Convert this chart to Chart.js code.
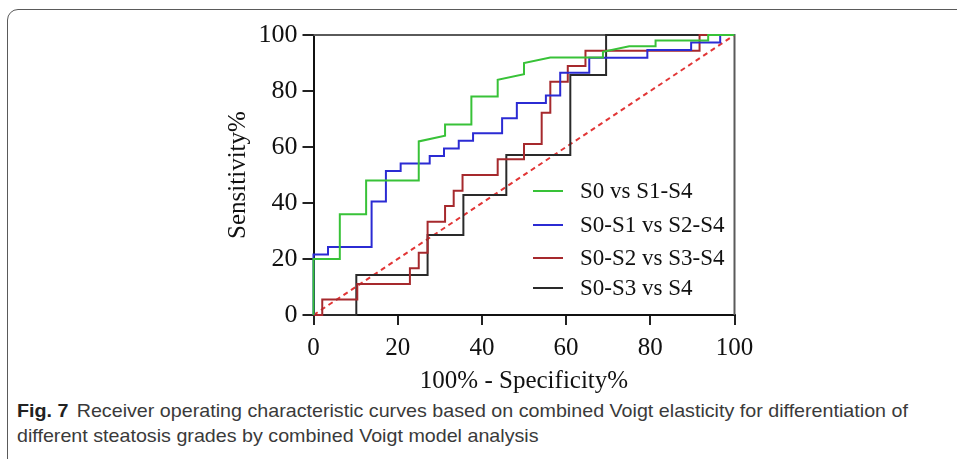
<!DOCTYPE html>
<html>
<head>
<meta charset="utf-8">
<script src="https://cdn.jsdelivr.net/npm/chart.js@4.4.0/dist/chart.umd.min.js"></script>
<style>
html, body { margin: 0; padding: 0; background: #fff; overflow: hidden; }
body { width: 957px; height: 459px; position: relative; }
.frame { position: absolute; left: 7px; top: 9px; width: 1000px; height: 520px; border: 1.5px solid #5a5a5a; border-top-left-radius: 11px; box-sizing: border-box; }
.chart-box { position: absolute; left: 0; top: 0; width: 957px; height: 396px; }
.caption { position: absolute; left: 17px; top: 398px; font-family: "Liberation Sans Narrow", "Liberation Sans", sans-serif; font-size: 19px; color: #3a3a3a; line-height: 25px; white-space: nowrap; transform-origin: 0 0; }
.caption b { color: #222; margin-right: 8px; }
</style>
</head>
<body>
<div class="frame"></div>
<div class="chart-box"><canvas id="roc" width="957" height="396"></canvas></div>
<div class="caption" id="cap">
  <div id="cap1"><b>Fig. 7</b>Receiver operating characteristic curves based on combined Voigt elasticity for differentiation of</div>
  <div>different steatosis grades by combined Voigt model analysis</div>
</div>
<script>
// curves (100% - specificity, sensitivity)
const s0_fpr = [0, 0, 6.25, 6.25, 12.5, 12.5, 25, 25, 31.25, 31.25, 37.5, 37.5, 43.75, 43.75, 50, 50, 56.25, 68.75, 68.75, 75, 81.25, 81.25, 93.75, 93.75, 100];
const s0_tpr = [0, 20, 20, 36, 36, 48, 48, 62, 64, 68, 68, 78, 78, 84, 86, 90, 92, 92, 94, 96, 96, 98, 98, 100, 100];

const s01_fpr = [0, 0, 3.45, 3.45, 13.8, 13.8, 17.2, 17.2, 20.7, 20.7, 27.6, 27.6, 31.0, 31.0, 34.5, 34.5, 37.9, 37.9, 44.8, 44.8, 48.3, 48.3, 55.2, 55.2, 58.6, 58.6, 65.5, 65.5, 79.3, 79.3, 89.7, 89.7, 96.6, 96.6, 100];
const s01_tpr = [0, 21.6, 21.6, 24.3, 24.3, 40.5, 40.5, 51.4, 51.4, 54.1, 54.1, 56.8, 56.8, 59.5, 59.5, 62.2, 62.2, 64.9, 64.9, 70.3, 70.3, 75.7, 75.7, 78.4, 78.4, 86.5, 86.5, 91.9, 91.9, 94.6, 94.6, 97.3, 97.3, 100, 100];

const s02_fpr = [0, 2.08, 2.08, 10.4, 10.4, 22.9, 22.9, 25, 25, 27.1, 27.1, 31.25, 31.25, 33.3, 33.3, 35.4, 35.4, 43.75, 43.75, 50, 50, 54.2, 54.2, 56.25, 56.25, 60.4, 60.4, 64.6, 64.6, 91.7, 91.7, 100];
const s02_tpr = [0, 0, 5.56, 5.56, 11.1, 11.1, 16.7, 16.7, 22.2, 22.2, 33.3, 33.3, 38.9, 38.9, 44.4, 44.4, 50, 50, 55.6, 55.6, 61.1, 61.1, 72.2, 72.2, 83.3, 83.3, 88.9, 88.9, 94.4, 94.4, 100, 100];

const s03_fpr = [0, 10.17, 10.17, 27.1, 27.1, 35.6, 35.6, 45.8, 45.8, 61.0, 61.0, 69.5, 69.5, 100];
const s03_tpr = [0, 0, 14.29, 14.29, 28.57, 28.57, 42.86, 42.86, 57.14, 57.14, 85.71, 85.71, 100, 100];

const ref_fpr = [0, 100];
const ref_tpr = [0, 100];

const series_labels = ['S0 vs S1-S4', 'S0-S1 vs S2-S4', 'S0-S2 vs S3-S4', 'S0-S3 vs S4'];
const axis_ticks = [0, 20, 40, 60, 80, 100];

const colors = ['#38c238', '#2b2bd3', '#a6292d', '#2a2a2a'];

const toPoints = (xs, ys) => xs.map((x, i) => ({ x: x, y: ys[i] }));

const serif = '"Liberation Serif", "Times New Roman", serif';

// plot box inside the canvas
const area = { left: 313.5, top: 35, right: 734.5, bottom: 315 };

const framePlugin = {
    id: 'frame',
    beforeDatasetsDraw(chart) {
        const { ctx, chartArea } = chart;
        ctx.save();
        ctx.strokeStyle = '#5a5a5a';
        ctx.lineWidth = 2;
        ctx.beginPath();
        ctx.moveTo(chartArea.left, chartArea.top);
        ctx.lineTo(chartArea.right, chartArea.top);
        ctx.lineTo(chartArea.right, chartArea.bottom);
        ctx.stroke();
        ctx.restore();
    }
};

const legendPlugin = {
    id: 'insideLegend',
    afterDraw(chart) {
        const { ctx } = chart;
        const rows = [191, 225, 258, 288];
        ctx.save();
        ctx.font = '23px ' + serif;
        ctx.textBaseline = 'middle';
        ctx.textAlign = 'left';
        series_labels.forEach((label, i) => {
            ctx.strokeStyle = colors[i];
            ctx.lineWidth = 2;
            ctx.beginPath();
            ctx.moveTo(533, rows[i]);
            ctx.lineTo(563, rows[i]);
            ctx.stroke();
            ctx.fillStyle = '#111';
            ctx.fillText(label, 580, rows[i] + 1);
        });
        ctx.restore();
    }
};

const datasets = [
    [s0_fpr, s0_tpr],
    [s01_fpr, s01_tpr],
    [s02_fpr, s02_tpr],
    [s03_fpr, s03_tpr]
].map((d, i) => ({
    label: series_labels[i],
    data: toPoints(d[0], d[1]),
    borderColor: colors[i],
    borderWidth: 2,
    pointRadius: 0,
    tension: 0,
    clip: 3
}));

datasets.push({
    label: 'reference',
    data: toPoints(ref_fpr, ref_tpr),
    borderColor: '#e23636',
    borderWidth: 2,
    borderDash: [5, 4],
    pointRadius: 0,
    clip: 3
});

new Chart(document.getElementById('roc'), {
    type: 'line',
    data: { datasets: datasets },
    options: {
        responsive: false,
        animation: false,
        devicePixelRatio: 1,
        layout: { padding: { top: area.top, right: 957 - area.right, left: 0, bottom: 0 } },
        plugins: { legend: { display: false }, tooltip: { enabled: false } },
        scales: {
            x: {
                type: 'linear',
                min: 0, max: 100,
                afterBuildTicks: s => { s.ticks = axis_ticks.map(v => ({ value: v })); },
                afterFit: s => { s.height = 396 - area.bottom; },
                grid: { drawOnChartArea: false, color: '#222', lineWidth: 2, tickLength: 10 },
                border: { color: '#111', width: 2 },
                ticks: { color: '#111', font: { family: serif, size: 25 }, padding: 8, maxRotation: 0 },
                title: { display: true, text: '100% - Specificity%', color: '#111', font: { family: serif, size: 25 }, padding: { top: 0, bottom: 0 } }
            },
            y: {
                type: 'linear',
                min: 0, max: 100,
                afterBuildTicks: s => { s.ticks = axis_ticks.map(v => ({ value: v })); },
                afterFit: s => { s.width = area.left; },
                grid: { drawOnChartArea: false, color: '#222', lineWidth: 2, tickLength: 11 },
                border: { color: '#111', width: 2 },
                ticks: { color: '#111', font: { family: serif, size: 26 }, padding: 5 },
                title: { display: true, text: 'Sensitivity%', color: '#111', font: { family: serif, size: 25 }, padding: { top: 223, bottom: 0 } }
            }
        }
    },
    plugins: [framePlugin, legendPlugin]
});

// squeeze the caption to the width it has in the figure
const cap = document.getElementById('cap');
const w1 = document.getElementById('cap1').scrollWidth;
cap.style.transform = 'scaleX(' + (891 / w1) + ')';
</script>
</body>
</html>
